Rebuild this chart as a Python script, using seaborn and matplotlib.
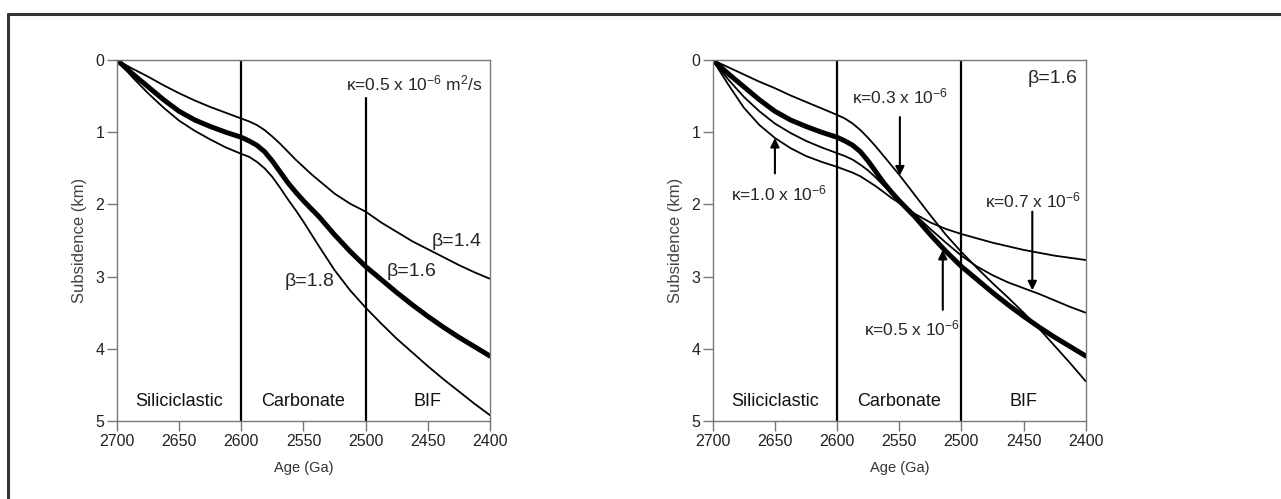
import matplotlib
matplotlib.use("Agg")
import matplotlib.pyplot as plt
import seaborn as sns
from matplotlib.lines import Line2D

# ages (Ma, labelled Ga on the axis as in the original); denser where the curves bend
ages = [2700, 2687.5, 2675, 2662.5, 2650, 2637.5, 2625, 2612.5, 2600,
        2593.75, 2587.5, 2581.25, 2575, 2568.75, 2562.5, 2556.25, 2550, 2543.75, 2537.5,
        2525, 2512.5, 2500, 2487.5, 2475, 2462.5, 2450, 2437.5, 2425, 2412.5, 2400]

# left panel: kappa = 0.5e-6, varying beta
beta_14 = [0, 0.12, 0.23, 0.35, 0.46, 0.56, 0.65, 0.73, 0.81,
           0.85, 0.90, 0.97, 1.06, 1.16, 1.27, 1.38, 1.48, 1.58, 1.67,
           1.85, 1.99, 2.10, 2.25, 2.38, 2.51, 2.62, 2.73, 2.84, 2.94, 3.03]
beta_16 = [0, 0.19, 0.37, 0.55, 0.71, 0.83, 0.92, 1.00, 1.07,
           1.12, 1.18, 1.27, 1.40, 1.55, 1.70, 1.83, 1.95, 2.06, 2.17,
           2.42, 2.65, 2.86, 3.04, 3.22, 3.39, 3.55, 3.70, 3.84, 3.97, 4.10]
beta_18 = [0, 0.24, 0.46, 0.66, 0.84, 0.98, 1.10, 1.21, 1.30,
           1.34, 1.41, 1.50, 1.62, 1.77, 1.93, 2.08, 2.24, 2.41, 2.58,
           2.91, 3.19, 3.43, 3.65, 3.86, 4.05, 4.24, 4.42, 4.59, 4.76, 4.92]

# right panel: beta = 1.6, varying kappa (kappa 0.5 is the same run as beta 1.6 above)
kappa_03 = [0, 0.10, 0.20, 0.30, 0.39, 0.49, 0.58, 0.67, 0.76,
            0.81, 0.88, 0.97, 1.08, 1.20, 1.33, 1.46, 1.59, 1.73, 1.87,
            2.15, 2.42, 2.66, 2.88, 3.09, 3.29, 3.50, 3.72, 3.96, 4.20, 4.45]
kappa_05 = beta_16
kappa_07 = [0, 0.27, 0.51, 0.71, 0.88, 1.01, 1.12, 1.21, 1.29,
            1.33, 1.38, 1.45, 1.53, 1.63, 1.74, 1.85, 1.95, 2.05, 2.14,
            2.34, 2.53, 2.71, 2.86, 2.98, 3.08, 3.16, 3.24, 3.33, 3.42, 3.50]
kappa_10 = [0, 0.34, 0.66, 0.90, 1.08, 1.22, 1.33, 1.41, 1.48,
            1.52, 1.56, 1.61, 1.68, 1.75, 1.83, 1.91, 1.98, 2.06, 2.13,
            2.25, 2.34, 2.41, 2.47, 2.53, 2.58, 2.63, 2.67, 2.71, 2.74, 2.77]

facies = ["Siliciclastic", "Carbonate", "BIF"]
facies_x = [2650, 2550, 2450]
xticks = [2700, 2650, 2600, 2550, 2500, 2450, 2400]
yticks = [0, 1, 2, 3, 4, 5]

sns.set_theme(style="ticks")
plt.rcParams["font.family"] = ["Liberation Sans", "DejaVu Sans"]
plt.rcParams["mathtext.default"] = "regular"

fig = plt.figure(figsize=(12.81, 4.99), dpi=100)
ax1 = fig.add_axes([0.0913, 0.1563, 0.2912, 0.7234])
ax2 = fig.add_axes([0.5564, 0.1563, 0.2912, 0.7234])

spine_col = "#777777"
lab_fs = 13
kap_fs = 12.5


def setup(ax):
    ax.set_xlim(2700, 2400)
    ax.set_ylim(5, 0)
    ax.set_xticks(xticks)
    ax.set_yticks(yticks)
    ax.tick_params(direction="out", length=7, width=1, color=spine_col,
                   labelsize=11.5, labelcolor="#222222", pad=2)
    for s in ax.spines.values():
        s.set_color(spine_col)
        s.set_linewidth(1.0)
    ax.set_xlabel("Age (Ga)", fontsize=10.5, color="#333333", labelpad=9)
    ax.set_ylabel("Subsidence (km)", fontsize=12, color="#444444", labelpad=6)
    for name, x in zip(facies, facies_x):
        ax.text(x, 4.73, name, ha="center", va="center", fontsize=lab_fs, color="#111111")


def curve(ax, y, lw):
    sns.lineplot(x=ages, y=y, ax=ax, color="black", lw=lw, legend=False)


def arrow(ax, tail, tip):
    ax.annotate("", xy=tip, xytext=tail,
                arrowprops=dict(arrowstyle="-|>", color="black", lw=1.5,
                                mutation_scale=13, shrinkA=0, shrinkB=0))


# left panel
curve(ax1, beta_14, 1.3)
curve(ax1, beta_16, 3.6)
curve(ax1, beta_18, 1.3)
ax1.axvline(2600, color="black", lw=1.6)
ax1.plot([2500, 2500], [0.53, 5], color="black", lw=1.6)
setup(ax1)
ax1.text(2406, 0.32, "κ=0.5 x 10$^{-6}$ m$^{2}$/s", ha="right", va="center", fontsize=kap_fs)
ax1.text(2407, 2.52, "β=1.4", ha="right", va="center", fontsize=lab_fs + 1)
ax1.text(2463, 2.93, "β=1.6", ha="center", va="center", fontsize=lab_fs + 1)
ax1.text(2545, 3.07, "β=1.8", ha="center", va="center", fontsize=lab_fs + 1)

# right panel
curve(ax2, kappa_03, 1.3)
curve(ax2, kappa_05, 3.6)
curve(ax2, kappa_07, 1.3)
curve(ax2, kappa_10, 1.3)
ax2.axvline(2600, color="black", lw=1.6)
ax2.axvline(2500, color="black", lw=1.6)
setup(ax2)
ax2.text(2407, 0.25, "β=1.6", ha="right", va="center", fontsize=lab_fs + 1)
ax2.text(2549, 0.5, "κ=0.3 x 10$^{-6}$", ha="center", va="center", fontsize=kap_fs)
arrow(ax2, (2549.5, 0.79), (2549.5, 1.6))
ax2.text(2647, 1.85, "κ=1.0 x 10$^{-6}$", ha="center", va="center", fontsize=kap_fs)
arrow(ax2, (2650, 1.57), (2650, 1.08))
ax2.text(2540, 3.72, "κ=0.5 x 10$^{-6}$", ha="center", va="center", fontsize=kap_fs)
arrow(ax2, (2515, 3.46), (2515, 2.63))
ax2.text(2442, 1.94, "κ=0.7 x 10$^{-6}$", ha="center", va="center", fontsize=kap_fs)
arrow(ax2, (2443, 2.10), (2443, 3.19))

# frame of the original figure
fig.add_artist(Line2D([8 / 1281, 1.0], [1 - 14 / 499, 1 - 14 / 499],
                      transform=fig.transFigure, color="#333333", lw=2.2))
fig.add_artist(Line2D([8 / 1281, 8 / 1281], [0.0, 1 - 14 / 499],
                      transform=fig.transFigure, color="#333333", lw=2.2))

fig.savefig("out.png", dpi=100, facecolor="white")
